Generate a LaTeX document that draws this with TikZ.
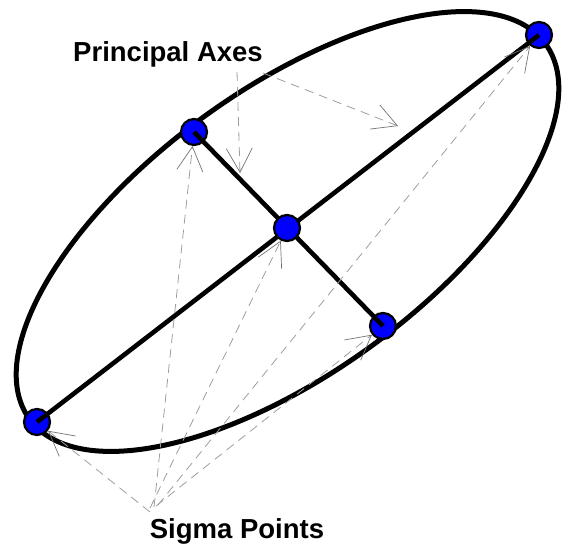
\documentclass[tikz,border=0pt]{standalone}
\usepackage{fontspec}
\setmainfont{Liberation Sans}
\usetikzlibrary{arrows.meta}
\begin{document}
\begin{tikzpicture}[x=1pt,y=1pt,
  sigma/.style={circle,draw=black,line width=2.2pt,fill={rgb,255:red,0;green,0;blue,255},minimum size=26pt,inner sep=0pt},
  axis/.style={line width=4.6pt},
  rim/.style={line width=5pt},
  pointer/.style={draw=black!38,line width=0.8pt,dash pattern=on 9pt off 6pt,
    -{Straight Barb[length=24pt,width=26pt,color=black!55,line width=0.7pt]}},
  lbl/.style={font=\bfseries\fontsize{27.5}{30}\selectfont,anchor=base,inner sep=0pt}]
\useasboundingbox (0,0) rectangle (562,549);
% ellipse
\draw[rim,rotate around={36:(287.5,317.5)}] (287.5,317.5) ellipse [x radius=319, y radius=142];
% sigma points at axis ends
\node[sigma] (ptr) at (539,514) {};
\node[sigma] (pl) at (37,127) {};
\node[sigma] (pul) at (194,417) {};
\node[sigma] (plr) at (383,223) {};
% axes
\draw[axis] (pl.center) -- (ptr.center);
\draw[axis] (pul.center) -- (plr.center);
\node[sigma] (pc) at (287,321) {};
% labels
\node[lbl] (pa) at (168,487) {Principal Axes};
\node[lbl] (sp) at (237,11) {Sigma Points};
% principal axes pointers
\coordinate (pa1) at (237,477);
\coordinate (pa2) at (263,476);
\coordinate (minorpt) at (240,376);
\coordinate (majorpt) at (398,423);
\draw[pointer] (pa1) -- (minorpt);
\draw[pointer] (pa2) -- (majorpt);
% sigma point pointers
\coordinate (s0) at (150,37);
\coordinate (s1) at (154,42);
\coordinate (s2) at (150,41);
\coordinate (s3) at (156,43);
\coordinate (s4) at (158,44);
\draw[pointer] (s0) -- (pl);
\draw[pointer] (s1) -- (pul);
\draw[pointer] (s2) -- (pc);
\draw[pointer] (s3) -- (plr);
\draw[pointer] (s4) -- (ptr);
\end{tikzpicture}
\end{document}
